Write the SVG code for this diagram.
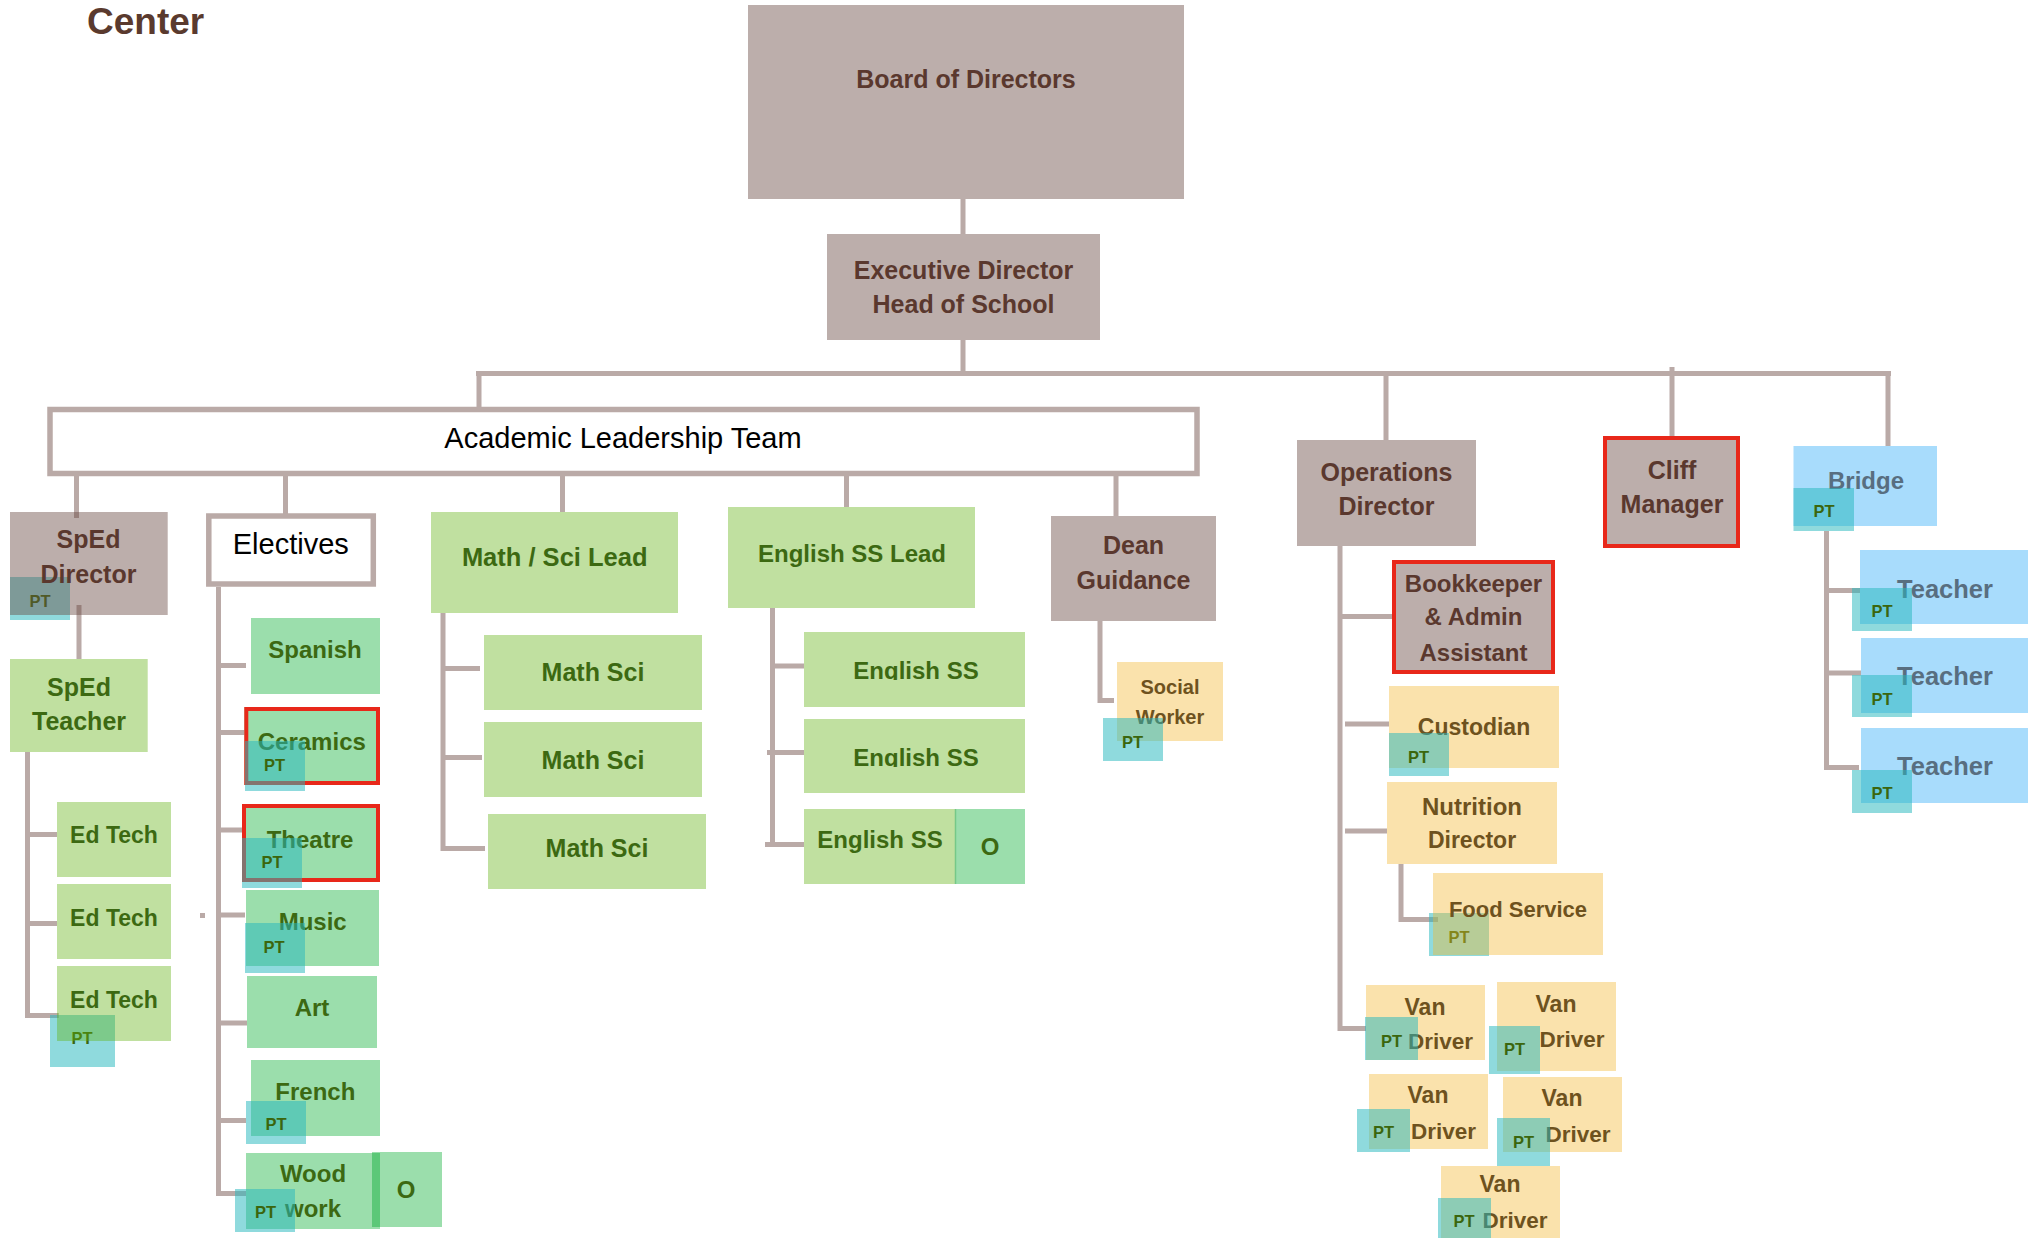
<svg xmlns="http://www.w3.org/2000/svg" width="2028" height="1238" viewBox="0 0 2028 1238">
<style>
.conn{stroke:#baaaa7;stroke-width:5;fill:none}
.brown{fill:#bcaeab}
.brownA{fill:#6a4b44;fill-opacity:.45}
.lg{fill:#c0e0a0}
.lgA{fill:#61b111;fill-opacity:.4}
.mint{fill:#9bdeac}
.orange{fill:#fae2ac}
.orangeA{fill:#f2b62f;fill-opacity:.4}
.blue{fill:#a8dcfc}
.pt{fill:#28b9be;fill-opacity:.52}
.red{fill:none;stroke:#e8281a;stroke-width:4}
.outline{fill:#fff;stroke:#baaaa7;stroke-width:5.5}
text{font-family:"Liberation Sans",Arial,sans-serif;font-weight:bold;font-size:24px;text-anchor:middle}
.tb{fill:#5a382e;font-size:25px}
.tg{fill:#3c6912}
.to{fill:#6e521e}
.tbl{fill:#586e80}
.tpt{fill:#3b660d;font-size:16.5px}
.plain{font-weight:normal;font-size:29px;fill:#000}
</style>
<defs>
<clipPath id="clipE1" clipPathUnits="userSpaceOnUse"><rect x="804" y="632" width="221" height="48"/></clipPath>
<clipPath id="clipE2" clipPathUnits="userSpaceOnUse"><rect x="804" y="719" width="221" height="48"/></clipPath>
</defs>
<rect width="2028" height="1238" fill="#fff"/>
<text x="87" y="34" style="font-size:37px;fill:#5a3a2e;text-anchor:start">Center</text>

<g id="connectors">
<path class="conn" d="M963 199V234M963 340V373.5M476 373.5H1891M479 373.5V408M1386 373.5V443M1672 367V438M1888 373.5V446"/>
<path class="conn" d="M76.5 476V518M285.5 476V514M562.5 476V514M846.5 476V510M1116 476V517"/>
<path class="conn" d="M79 605V662M27.5 752V1018M25 834.5H58.7M25 923.5H58.7M25 1015.5H58.7"/>
<path class="conn" d="M218.5 587V1196M216 665.5H246M216 732.5H245M216 830H242M216 915H245M216 1023H247M216 1120.5H246M216 1193.5H250"/>
<rect x="200" y="913" width="5" height="5" fill="#baaaa7"/>
<path class="conn" d="M443 613V851M443 668.5H480M443 757.5H482M443 848.5H485"/>
<path class="conn" d="M772.5 604V847M770 666H807M767 752.5H807M765 844.5H807"/>
<path class="conn" d="M1100 618V703M1100 700.5H1114"/>
<path class="conn" d="M1340 535V1031M1340 616.5H1392M1345 724H1391M1345 831H1389M1340 1028.5H1367"/>
<path class="conn" d="M1401 864V922M1401 919.5H1438"/>
<path class="conn" d="M1826.5 531V770M1826.5 590.5H1863M1826.5 673H1861M1826.5 767.5H1859"/>
</g>

<g id="board"><rect class="brown" x="748" y="5" width="436" height="194"/><text class="tb" x="966" y="88">Board of Directors</text></g>
<g id="exec"><rect class="brown" x="827" y="234" width="273" height="106"/><text class="tb" x="963.5" y="279">Executive Director</text><text class="tb" x="963.5" y="313">Head of School</text></g>
<g id="alt"><rect class="outline" x="50" y="409.5" width="1147" height="64"/><text class="plain" x="623" y="448">Academic Leadership Team</text></g>
<g id="ops"><rect class="brown" x="1297" y="440" width="179" height="106"/><text class="tb" x="1386.5" y="481">Operations</text><text class="tb" x="1386.5" y="515">Director</text></g>
<g id="cliff"><rect class="brown" x="1603" y="436" width="137" height="112"/><rect class="red" x="1605" y="438" width="133" height="108"/><text class="tb" x="1672" y="479">Cliff</text><text class="tb" x="1672" y="513">Manager</text></g>
<g id="bridge"><rect class="blue" x="1793.5" y="446" width="143.5" height="80"/><text class="tbl" x="1866" y="489">Bridge</text><rect class="pt" x="1793.5" y="488" width="60.5" height="43"/><text class="tpt" x="1824" y="517">PT</text></g>
<g id="teacher1"><rect class="blue" x="1860" y="550" width="168" height="74"/><text class="tbl" x="1945" y="598" style="font-size:25.5px">Teacher</text><rect class="pt" x="1852" y="588" width="60" height="43"/><text class="tpt" x="1882" y="617">PT</text></g>
<g id="teacher2"><rect class="blue" x="1861" y="638" width="167" height="75"/><text class="tbl" x="1945" y="685" style="font-size:25.5px">Teacher</text><rect class="pt" x="1852" y="675" width="60" height="42"/><text class="tpt" x="1882" y="705">PT</text></g>
<g id="teacher3"><rect class="blue" x="1861" y="728" width="167" height="75"/><text class="tbl" x="1945" y="775" style="font-size:25.5px">Teacher</text><rect class="pt" x="1852" y="770" width="60" height="43"/><text class="tpt" x="1882" y="799">PT</text></g>

<g id="dean"><rect class="brown" x="1051" y="516" width="165" height="105"/><text class="tb" x="1133.5" y="554">Dean</text><text class="tb" x="1133.5" y="589">Guidance</text></g>
<g id="social"><rect class="orange" x="1117" y="662" width="106" height="79"/><text class="to" x="1170" y="694" style="font-size:20px">Social</text><text class="to" x="1170" y="724" style="font-size:20px">Worker</text><rect class="pt" x="1103" y="718" width="60" height="43"/><text class="tpt" x="1132.5" y="748">PT</text></g>

<g id="bookkeeper"><rect class="brown" x="1392" y="560" width="163" height="114"/><rect class="red" x="1394" y="562" width="159" height="110"/><text class="tb" x="1473.5" y="592" style="font-size:24px">Bookkeeper</text><text class="tb" x="1473.5" y="625" style="font-size:24px">&amp; Admin</text><text class="tb" x="1473.5" y="661" style="font-size:24px">Assistant</text></g>
<g id="custodian"><rect class="orange" x="1389" y="686" width="170" height="82"/><text class="to" x="1474" y="735" style="font-size:23px">Custodian</text><rect class="pt" x="1389" y="733" width="60" height="43"/><text class="tpt" x="1418.5" y="763">PT</text></g>
<g id="nutrition"><rect class="orange" x="1387" y="782" width="170" height="82"/><text class="to" x="1472" y="815">Nutrition</text><text class="to" x="1472" y="848" style="font-size:23px">Director</text></g>
<g id="food"><rect class="pt" x="1429" y="913" width="60" height="43"/><text class="tpt" x="1459" y="943">PT</text><rect class="orangeA" x="1433" y="873" width="170" height="82"/><text class="to" x="1518" y="917" style="font-size:22px">Food Service</text></g>
<g id="van1"><rect class="orange" x="1366" y="985" width="119" height="75"/><text class="to" x="1425" y="1015" style="font-size:23px">Van</text><text class="to" x="1440.5" y="1049" style="font-size:22.5px">Driver</text><rect class="pt" x="1365" y="1017" width="53" height="43"/><text class="tpt" x="1391.5" y="1047">PT</text></g>
<g id="van2"><rect class="orange" x="1497" y="982" width="119" height="89"/><text class="to" x="1556" y="1012" style="font-size:23px">Van</text><text class="to" x="1572" y="1047" style="font-size:22.5px">Driver</text><rect class="pt" x="1489" y="1026" width="51" height="48"/><text class="tpt" x="1514.5" y="1055">PT</text></g>
<g id="van3"><rect class="orange" x="1369" y="1074" width="119" height="75"/><text class="to" x="1428" y="1103" style="font-size:23px">Van</text><text class="to" x="1443.5" y="1139" style="font-size:22.5px">Driver</text><rect class="pt" x="1357" y="1109" width="53" height="43"/><text class="tpt" x="1383.5" y="1138">PT</text></g>
<g id="van4"><rect class="orange" x="1503" y="1077" width="119" height="75"/><text class="to" x="1562" y="1106" style="font-size:23px">Van</text><text class="to" x="1578" y="1142" style="font-size:22.5px">Driver</text><rect class="pt" x="1497" y="1118" width="53" height="48"/><text class="tpt" x="1523.5" y="1148">PT</text></g>
<g id="van5"><rect class="orange" x="1441" y="1166" width="119" height="72"/><text class="to" x="1500" y="1192" style="font-size:23px">Van</text><text class="to" x="1515" y="1228" style="font-size:22.5px">Driver</text><rect class="pt" x="1438" y="1198" width="53" height="40"/><text class="tpt" x="1464" y="1227">PT</text></g>

<g id="sped-director"><rect class="pt" x="10" y="577" width="60" height="43"/><text class="tpt" x="40" y="607">PT</text><rect class="brownA" x="10" y="512" width="157.7" height="103"/><text class="tb" x="88.5" y="548">SpEd</text><text class="tb" x="88.5" y="583">Director</text></g>
<g id="sped-teacher"><rect class="lg" x="10" y="659" width="137.7" height="93"/><text class="tg" x="79" y="696" style="font-size:25px">SpEd</text><text class="tg" x="79" y="730" style="font-size:25px">Teacher</text></g>
<g id="edtech1"><rect class="lg" x="57" y="802" width="114" height="75"/><text class="tg" x="114" y="843" style="font-size:23px">Ed Tech</text></g>
<g id="edtech2"><rect class="lg" x="57" y="884" width="114" height="75"/><text class="tg" x="114" y="926" style="font-size:23px">Ed Tech</text></g>
<g id="edtech3"><rect class="pt" x="50" y="1015" width="65" height="52"/><text class="tpt" x="82" y="1044">PT</text><rect class="lgA" x="57" y="966" width="114" height="75"/><text class="tg" x="114" y="1008" style="font-size:23px">Ed Tech</text></g>

<g id="electives"><rect class="outline" x="208.8" y="516" width="164.5" height="68"/><text class="plain" x="290.8" y="554">Electives</text></g>
<g id="spanish"><rect class="mint" x="251" y="618" width="129" height="76"/><text class="tg" x="315" y="658">Spanish</text></g>
<g id="ceramics"><rect class="mint" x="244.3" y="707" width="135.7" height="78"/><text class="tg" x="311.8" y="750">Ceramics</text><rect class="red" x="246.3" y="709" width="131.7" height="74"/><rect class="pt" x="245" y="741" width="60" height="50"/><text class="tpt" x="274.5" y="771">PT</text></g>
<g id="theatre"><rect class="mint" x="242" y="804" width="138" height="78"/><text class="tg" x="310" y="848">Theatre</text><rect class="red" x="244" y="806" width="134" height="74"/><rect class="pt" x="242" y="838" width="60" height="50"/><text class="tpt" x="272" y="868">PT</text></g>
<g id="music"><rect class="mint" x="246" y="890" width="133" height="76"/><text class="tg" x="312.7" y="930">Music</text><rect class="pt" x="245" y="923" width="60" height="50"/><text class="tpt" x="274" y="953">PT</text></g>
<g id="art"><rect class="mint" x="247" y="976" width="130" height="72"/><text class="tg" x="312" y="1016">Art</text></g>
<g id="french"><rect class="mint" x="251" y="1060" width="129" height="76"/><text class="tg" x="315.3" y="1100">French</text><rect class="pt" x="246" y="1101" width="60" height="43"/><text class="tpt" x="276" y="1130">PT</text></g>
<g id="woodwork"><rect class="mint" x="246" y="1153" width="134" height="76"/><rect class="mint" x="372" y="1152" width="70" height="75"/><rect fill="#5cc878" x="372" y="1153" width="8" height="74"/><text class="tg" x="313" y="1182">Wood</text><text class="tg" x="313" y="1217">work</text><text class="tg" x="406" y="1198">O</text><rect class="pt" x="235" y="1189" width="60" height="43"/><text class="tpt" x="265.5" y="1218">PT</text></g>

<g id="math-lead"><rect class="lg" x="431" y="512" width="247" height="101"/><text class="tg" x="554.7" y="566" style="font-size:25.5px">Math / Sci Lead</text></g>
<g id="math1"><rect class="lg" x="484" y="635" width="218" height="75"/><text class="tg" x="593" y="681" style="font-size:25px">Math Sci</text></g>
<g id="math2"><rect class="lg" x="484" y="722" width="218" height="75"/><text class="tg" x="593" y="769" style="font-size:25px">Math Sci</text></g>
<g id="math3"><rect class="lg" x="488" y="814" width="218" height="75"/><text class="tg" x="597" y="857" style="font-size:25px">Math Sci</text></g>
<g id="english-lead"><rect class="lg" x="728" y="507" width="247" height="101"/><text class="tg" x="852" y="562">English SS Lead</text></g>
<g id="english1"><rect class="lg" x="804" y="632" width="221" height="75"/><text class="tg" x="916" y="679" clip-path="url(#clipE1)">English SS</text></g>
<g id="english2"><rect class="lg" x="804" y="719" width="221" height="74"/><text class="tg" x="916" y="766" clip-path="url(#clipE2)">English SS</text></g>
<g id="english3"><rect class="lg" x="804" y="809" width="151" height="75"/><rect class="mint" x="955" y="809" width="70" height="75"/><line x1="955.5" y1="809" x2="955.5" y2="884" stroke="#76c888" stroke-width="1.5"/><text class="tg" x="880" y="848">English SS</text><text class="tg" x="990" y="855">O</text></g>
</svg>
